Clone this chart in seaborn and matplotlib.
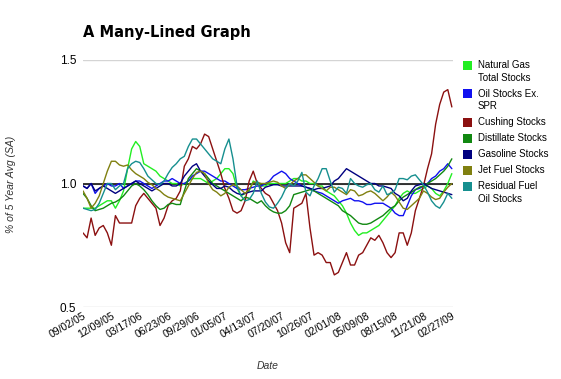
import pandas as pd
import numpy as np
import seaborn as sns
import matplotlib.pyplot as plt
from matplotlib.patches import Rectangle

# datos semanales (cada 2 semanas)
start_date = "2005-09-02"
n_points = 92

series_names = ["Natural Gas\nTotal Stocks", "Oil Stocks Ex.\nSPR", "Cushing Stocks",
                "Distillate Stocks", "Gasoline Stocks", "Jet Fuel Stocks",
                "Residual Fuel\nOil Stocks"]
series_colors = ["#22ee22", "#1010f0", "#8b1010", "#118811", "#000080", "#808010", "#168f8f"]

natural_gas = [0.90, 0.90, 0.90, 0.90, 0.91, 0.92, 0.93, 0.93, 0.90, 0.93,
               0.97, 1.06, 1.14, 1.17, 1.15, 1.08, 1.07, 1.06, 1.05, 1.03,
               1.02, 1.01, 1.00, 1.00, 0.99, 1.00, 1.01, 1.02, 1.02, 1.02,
               1.01, 1.00, 1.01, 1.02, 1.04, 1.06, 1.06, 1.04, 0.98, 0.95,
               0.96, 0.97, 1.01, 1.00, 0.99, 0.99, 1.00, 1.00, 1.00, 1.00,
               1.00, 1.01, 1.02, 1.02, 1.01, 1.01, 1.00, 1.00, 0.99, 0.99,
               0.97, 0.96, 0.95, 0.93, 0.91, 0.88, 0.84, 0.81, 0.79, 0.80,
               0.80, 0.81, 0.82, 0.83, 0.85, 0.87, 0.89, 0.91, 0.94, 0.96,
               0.97, 0.96, 0.96, 0.97, 0.98, 0.99, 0.98, 0.96, 0.95, 0.97,
               1.00, 1.04]
oil_stocks = [0.99, 0.98, 1.00, 0.96, 0.98, 0.99, 1.00, 0.99, 0.99, 1.00,
              0.98, 0.99, 1.00, 1.01, 1.01, 1.00, 0.99, 0.98, 0.99, 1.00,
              1.01, 1.01, 1.02, 1.01, 1.00, 1.00, 1.01, 1.03, 1.04, 1.05,
              1.05, 1.04, 1.03, 1.02, 1.01, 1.01, 1.00, 0.99, 0.98, 0.975,
              0.975, 0.98, 0.985, 0.99, 0.99, 1.00, 1.01, 1.03, 1.04, 1.05,
              1.04, 1.02, 1.01, 1.00, 0.99, 0.985, 0.98, 0.97, 0.965, 0.96,
              0.95, 0.94, 0.93, 0.92, 0.93, 0.935, 0.94, 0.93, 0.93, 0.925,
              0.915, 0.915, 0.92, 0.92, 0.92, 0.91, 0.90, 0.88, 0.87, 0.87,
              0.91, 0.95, 0.975, 0.98, 0.99, 1.00, 1.02, 1.03, 1.05, 1.06,
              1.08, 1.06]
cushing = [0.80, 0.78, 0.86, 0.79, 0.82, 0.83, 0.80, 0.75, 0.87, 0.84,
           0.84, 0.84, 0.84, 0.91, 0.94, 0.96, 0.94, 0.92, 0.90, 0.83,
           0.86, 0.91, 0.93, 0.94, 0.97, 1.07, 1.10, 1.15, 1.14, 1.16,
           1.20, 1.19, 1.14, 1.09, 1.04, 0.98, 0.94, 0.89, 0.88, 0.89,
           0.93, 1.01, 1.05, 1.00, 0.98, 0.96, 0.95, 0.92, 0.89, 0.84,
           0.76, 0.72, 0.90, 0.91, 0.92, 0.96, 0.82, 0.71, 0.72, 0.71,
           0.68, 0.68, 0.63, 0.64, 0.68, 0.72, 0.67, 0.67, 0.71, 0.72,
           0.75, 0.78, 0.77, 0.79, 0.76, 0.72, 0.70, 0.72, 0.80, 0.80,
           0.75, 0.80, 0.89, 0.94, 0.99, 1.06, 1.12, 1.24, 1.32, 1.37,
           1.38, 1.31]
distillate = [0.96, 0.94, 0.91, 0.89, 0.895, 0.90, 0.91, 0.92, 0.925, 0.935,
              0.95, 0.97, 0.99, 1.00, 0.99, 0.975, 0.955, 0.93, 0.91, 0.895,
              0.90, 0.915, 0.92, 0.915, 0.915, 0.97, 1.02, 1.04, 1.06, 1.05,
              1.04, 1.02, 1.00, 0.99, 0.98, 0.97, 0.96, 0.95, 0.94, 0.93,
              0.945, 0.94, 0.93, 0.92, 0.93, 0.91, 0.895, 0.885, 0.88, 0.88,
              0.89, 0.91, 0.955, 0.96, 0.965, 0.97, 0.975, 0.97, 0.96, 0.95,
              0.94, 0.93, 0.92, 0.91, 0.89, 0.88, 0.87, 0.855, 0.84, 0.835,
              0.835, 0.84, 0.85, 0.86, 0.87, 0.885, 0.90, 0.91, 0.93, 0.945,
              0.955, 0.965, 0.975, 0.985, 0.99, 1.00, 1.01, 1.02, 1.035, 1.05,
              1.07, 1.10]
gasoline = [0.99, 0.98, 1.00, 0.97, 0.98, 0.99, 0.98, 0.97, 0.96, 0.97,
            0.98, 0.99, 1.00, 1.01, 1.00, 0.99, 0.98, 0.97, 0.98, 0.99,
            1.00, 1.00, 0.99, 0.99, 1.00, 1.03, 1.05, 1.07, 1.08, 1.05,
            1.03, 1.01, 0.995, 0.98, 0.98, 0.99, 0.985, 0.97, 0.96, 0.955,
            0.96, 0.965, 0.97, 0.97, 0.97, 0.985, 0.99, 0.995, 0.995, 0.99,
            0.99, 0.99, 0.99, 0.99, 0.99, 0.985, 0.98, 0.975, 0.98, 0.98,
            0.985, 0.99, 1.01, 1.02, 1.04, 1.06, 1.05, 1.04, 1.03, 1.02,
            1.01, 1.00, 1.00, 0.99, 0.99, 0.985, 0.98, 0.96, 0.95, 0.93,
            0.94, 0.97, 0.99, 0.995, 1.00, 0.99, 0.98, 0.975, 0.97, 0.965,
            0.96, 0.955]
jet_fuel = [0.97, 0.94, 0.90, 0.92, 0.95, 1.00, 1.05, 1.09, 1.09, 1.075,
            1.07, 1.075, 1.055, 1.04, 1.03, 1.02, 1.005, 0.995, 0.98, 0.97,
            0.955, 0.945, 0.94, 0.935, 0.93, 0.96, 0.99, 1.02, 1.045, 1.05,
            1.04, 1.00, 0.975, 0.965, 0.95, 0.96, 0.985, 0.995, 0.99, 0.975,
            0.96, 0.975, 1.005, 1.005, 1.00, 1.00, 1.005, 1.01, 1.005, 0.99,
            0.98, 0.995, 1.01, 1.02, 1.035, 1.035, 1.02, 1.005, 0.99, 0.98,
            0.97, 0.985, 0.985, 0.975, 0.965, 0.955, 0.975, 0.97, 0.95, 0.955,
            0.965, 0.97, 0.96, 0.945, 0.93, 0.945, 0.965, 0.95, 0.925, 0.90,
            0.895, 0.91, 0.925, 0.94, 0.97, 0.96, 0.945, 0.935, 0.94, 0.965,
            0.985, 1.00]
residual = [0.90, 0.895, 0.89, 0.895, 0.92, 0.96, 1.00, 1.00, 0.975, 0.99,
            1.00, 1.06, 1.08, 1.09, 1.085, 1.06, 1.03, 1.015, 1.00, 0.995,
            1.01, 1.04, 1.065, 1.08, 1.10, 1.11, 1.15, 1.18, 1.18, 1.16,
            1.14, 1.12, 1.10, 1.09, 1.08, 1.14, 1.18, 1.10, 0.99, 0.95,
            0.93, 0.935, 0.96, 1.01, 0.96, 0.925, 0.905, 0.90, 0.92, 0.945,
            0.98, 1.00, 0.99, 1.01, 1.045, 0.965, 0.95, 0.99, 1.02, 1.06,
            1.06, 1.01, 0.965, 0.985, 0.98, 0.96, 1.02, 1.00, 0.99, 0.985,
            0.995, 1.00, 0.975, 0.965, 0.99, 0.955, 0.96, 0.975, 1.02, 1.02,
            1.015, 1.03, 1.035, 1.015, 0.995, 0.965, 0.93, 0.91, 0.90, 0.925,
            0.96, 0.94]

tick_labels = ["09/02/05", "12/09/05", "03/17/06", "06/23/06", "09/29/06", "01/05/07",
               "04/13/07", "07/20/07", "10/26/07", "02/01/08", "05/09/08", "08/15/08",
               "11/21/08", "02/27/09"]
y_ticks = [0.5, 1.0, 1.5]

dates = pd.date_range(start_date, periods=n_points, freq="14D")
values = [natural_gas, oil_stocks, cushing, distillate, gasoline, jet_fuel, residual]
df = pd.concat([pd.DataFrame({"date": dates, "value": v, "series": name})
                for name, v in zip(series_names, values)], ignore_index=True)

sns.set_style("white")
plt.rcParams["font.family"] = ["Liberation Sans", "DejaVu Sans"]
plt.rcParams["text.color"] = "black"

fig = plt.figure(figsize=(5.61, 3.79), dpi=100)
ax = fig.add_axes([83 / 561, 1 - 307 / 379, 370 / 561, 247 / 379])

for yv in y_ticks:
    ax.axhline(yv, color="#d4d4d4", lw=1, zorder=0)
ax.axhline(1.0, color="black", lw=1.1, zorder=1)

sns.lineplot(data=df, x="date", y="value", hue="series", palette=series_colors,
             linewidth=1, legend=False, ax=ax, zorder=2)

ax.set_ylim(0.5, 1.5)
ax.set_xlim(dates[0], dates[-1] + pd.Timedelta(days=4))
ax.set_yticks(y_ticks)
ax.set_yticklabels(["0.5", "1.0", "1.5"], fontsize=8.5, color="black")
ax.set_xticks(dates[::7])
ax.set_xticklabels(tick_labels, rotation=30, ha="right", rotation_mode="anchor",
                   fontsize=7.5, color="black")
ax.tick_params(axis="both", length=0, pad=5)
ax.tick_params(axis="x", pad=3)
for s in ax.spines.values():
    s.set_visible(False)
ax.set_xlabel("")
ax.set_ylabel("")

fig.text(83 / 561, 1 - 32 / 379, "A Many-Lined Graph", fontsize=10.5, fontweight="bold",
         family="DejaVu Sans", color="black", va="center", ha="left")
fig.text(268 / 561, 1 - 366 / 379, "Date", fontsize=7.5, style="italic", color="#333333",
         ha="center", va="center")
fig.text(11 / 561, 1 - 184 / 379, "% of 5 Year Avg (SA)", fontsize=7.5, style="italic",
         color="#333333", rotation=90, ha="center", va="center")

# leyenda a mano: cuadrado + texto
y_px = 65
for name, col in zip(series_names, series_colors):
    fig.add_artist(Rectangle((463 / 561, 1 - (y_px + 4.5) / 379), 9 / 561, 9 / 379,
                             facecolor=col, edgecolor="none", transform=fig.transFigure))
    lines = name.split("\n")
    for k, line in enumerate(lines):
        fig.text(478 / 561, 1 - (y_px + 12.6 * k) / 379, line, fontsize=7,
                 color="black", va="center", ha="left")
    y_px += 12.6 * (len(lines) - 1) + 16

fig.savefig("out.png", dpi=100)
